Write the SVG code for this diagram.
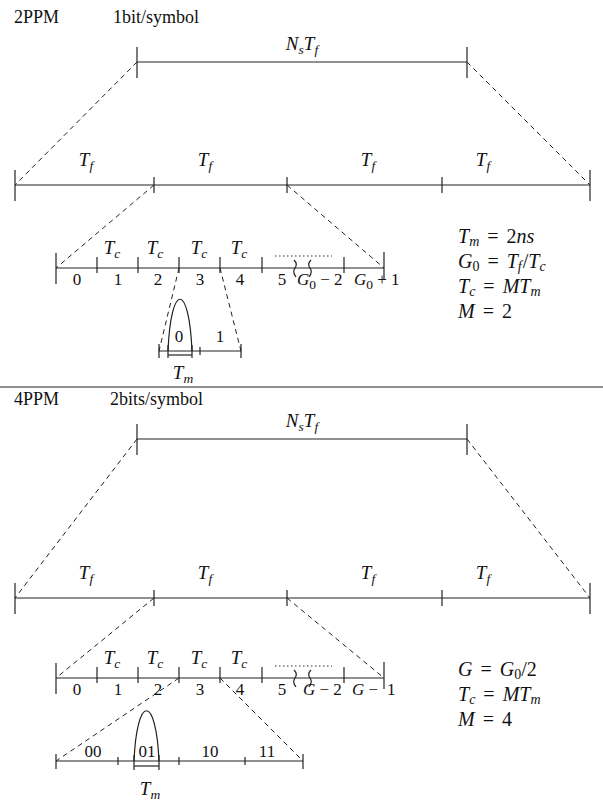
<svg xmlns="http://www.w3.org/2000/svg" width="603" height="802" viewBox="0 0 603 802">
<style>
.ln{stroke:#222;stroke-width:1.2;fill:none}
.dash{stroke:#222;stroke-width:1;stroke-dasharray:5,4;fill:none}
.dot{stroke:#333;stroke-width:1;stroke-dasharray:1.5,2.5;fill:none}
.t{font-family:"Liberation Serif","Times New Roman",serif;font-size:17px;fill:#111}
.h{font-size:18px}
.m{font-size:19px}
.eq{font-size:20px}
.i{font-style:italic}
.s{font-size:13.5px}
.es{font-size:14px}
</style>
<rect width="603" height="802" fill="#fff"/>

<g id="ppm2">
 <text class="t h" x="14" y="23">2PPM</text>
 <text class="t h" x="113" y="23">1bit/symbol</text>

 <g id="symbol-line-top">
  <line class="ln" x1="137" y1="62" x2="467" y2="62"/>
  <line class="ln" x1="137" y1="47" x2="137" y2="78"/>
  <line class="ln" x1="467" y1="47" x2="467" y2="78"/>
  <text class="t m i" x="302" y="50" text-anchor="middle">N<tspan class="s" dy="4">s</tspan><tspan dy="-4">T</tspan><tspan class="s" dy="4">f</tspan></text>
 </g>

 <g id="frame-line-top">
  <line class="ln" x1="15" y1="185" x2="590" y2="185"/>
  <line class="ln" x1="15" y1="170" x2="15" y2="201"/>
  <line class="ln" x1="590" y1="170" x2="590" y2="201"/>
  <line class="ln" x1="154" y1="177" x2="154" y2="193"/>
  <line class="ln" x1="287" y1="177" x2="287" y2="193"/>
  <line class="ln" x1="442" y1="177" x2="442" y2="193"/>
  <text class="t m i" x="86" y="166" text-anchor="middle">T<tspan class="s" dy="4">f</tspan></text>
  <text class="t m i" x="205" y="166" text-anchor="middle">T<tspan class="s" dy="4">f</tspan></text>
  <text class="t m i" x="368" y="166" text-anchor="middle">T<tspan class="s" dy="4">f</tspan></text>
  <text class="t m i" x="483" y="166" text-anchor="middle">T<tspan class="s" dy="4">f</tspan></text>
 </g>

 <g id="chip-line-top">
  <line class="ln" x1="56" y1="268" x2="384" y2="268"/>
  <line class="ln" x1="56" y1="253" x2="56" y2="284"/>
  <line class="ln" x1="384" y1="252" x2="384" y2="279"/>
  <line class="ln" x1="97" y1="257" x2="97" y2="273"/>
  <line class="ln" x1="138" y1="257" x2="138" y2="273"/>
  <line class="ln" x1="179" y1="257" x2="179" y2="273"/>
  <line class="ln" x1="220" y1="257" x2="220" y2="273"/>
  <line class="ln" x1="262" y1="257" x2="262" y2="273"/>
  <line class="ln" x1="344" y1="257" x2="344" y2="273"/>
  <path class="ln" d="M294,260 q4,4 1,8 q-3,4 1,9"/>
  <path class="ln" d="M311,260 q-4,4 -1,8 q3,4 -1,9"/>
  <line class="dot" x1="275" y1="256" x2="332" y2="256"/>
  <text class="t m i" x="112" y="254" text-anchor="middle">T<tspan class="s" dy="4">c</tspan></text>
  <text class="t m i" x="155" y="254" text-anchor="middle">T<tspan class="s" dy="4">c</tspan></text>
  <text class="t m i" x="199" y="254" text-anchor="middle">T<tspan class="s" dy="4">c</tspan></text>
  <text class="t m i" x="239" y="254" text-anchor="middle">T<tspan class="s" dy="4">c</tspan></text>
  <text class="t" x="77" y="285" text-anchor="middle">0</text>
  <text class="t" x="118" y="285" text-anchor="middle">1</text>
  <text class="t" x="158" y="285" text-anchor="middle">2</text>
  <text class="t" x="200" y="285" text-anchor="middle">3</text>
  <text class="t" x="240" y="285" text-anchor="middle">4</text>
  <text class="t" x="282" y="285" text-anchor="middle">5</text>
  <text class="t" x="297" y="285"><tspan class="i">G</tspan><tspan class="s" dy="4">0</tspan><tspan dy="-4"> − 2</tspan></text>
  <text class="t" x="354" y="285"><tspan class="i">G</tspan><tspan class="s" dy="4">0</tspan><tspan dy="-4"> + 1</tspan></text>
 </g>

 <g id="pulse-top">
  <line class="ln" x1="159" y1="351" x2="241" y2="351"/>
  <line class="ln" x1="159" y1="344" x2="159" y2="358"/>
  <line class="ln" x1="241" y1="344" x2="241" y2="358"/>
  <line class="ln" x1="200" y1="347" x2="200" y2="355"/>
  <path class="ln" d="M168,351 C171,282 189,282 192,351"/>
  <line class="ln" x1="168" y1="345" x2="168" y2="358"/>
  <line class="ln" x1="192" y1="345" x2="192" y2="358"/>
  <line class="ln" x1="168" y1="355" x2="192" y2="355"/>
  <text class="t" x="179" y="342" text-anchor="middle">0</text>
  <text class="t" x="220" y="342" text-anchor="middle">1</text>
  <text class="t m i" x="183" y="379" text-anchor="middle">T<tspan class="s" dy="4">m</tspan></text>
 </g>

 <g id="eq-top">
  <text class="t eq" x="458" y="243"><tspan class="i">T</tspan><tspan class="es i" dy="3">m</tspan><tspan dy="-3" dx="3"> = </tspan><tspan dx="3">2</tspan><tspan class="i">ns</tspan></text>
  <text class="t eq" x="458" y="268"><tspan class="i">G</tspan><tspan class="es" dy="3">0</tspan><tspan dy="-3" dx="3"> = </tspan><tspan class="i" dx="3">T</tspan><tspan class="es i" dy="3">f</tspan><tspan dy="-3" dx="1">/</tspan><tspan class="i">T</tspan><tspan class="es i" dy="3">c</tspan></text>
  <text class="t eq" x="458" y="293"><tspan class="i">T</tspan><tspan class="es i" dy="3">c</tspan><tspan dy="-3" dx="3"> = </tspan><tspan class="i" dx="3">MT</tspan><tspan class="es i" dy="3">m</tspan></text>
  <text class="t eq" x="458" y="318"><tspan class="i">M</tspan><tspan dx="3"> = </tspan><tspan dx="3">2</tspan></text>
 </g>
</g>

<line id="separator" class="ln" x1="0" y1="387" x2="603" y2="387"/>

<g id="ppm4">
 <text class="t h" x="14" y="405">4PPM</text>
 <text class="t h" x="110" y="405">2bits/symbol</text>

 <g id="symbol-line-bottom">
  <line class="ln" x1="137" y1="439" x2="467" y2="439"/>
  <line class="ln" x1="137" y1="424" x2="137" y2="455"/>
  <line class="ln" x1="467" y1="424" x2="467" y2="455"/>
  <text class="t m i" x="302" y="427" text-anchor="middle">N<tspan class="s" dy="4">s</tspan><tspan dy="-4">T</tspan><tspan class="s" dy="4">f</tspan></text>
 </g>

 <g id="frame-line-bottom">
  <line class="ln" x1="15" y1="598" x2="590" y2="598"/>
  <line class="ln" x1="15" y1="583" x2="15" y2="614"/>
  <line class="ln" x1="590" y1="583" x2="590" y2="614"/>
  <line class="ln" x1="154" y1="590" x2="154" y2="606"/>
  <line class="ln" x1="287" y1="590" x2="287" y2="606"/>
  <line class="ln" x1="442" y1="590" x2="442" y2="606"/>
  <text class="t m i" x="86" y="579" text-anchor="middle">T<tspan class="s" dy="4">f</tspan></text>
  <text class="t m i" x="205" y="579" text-anchor="middle">T<tspan class="s" dy="4">f</tspan></text>
  <text class="t m i" x="368" y="579" text-anchor="middle">T<tspan class="s" dy="4">f</tspan></text>
  <text class="t m i" x="483" y="579" text-anchor="middle">T<tspan class="s" dy="4">f</tspan></text>
 </g>

 <g id="chip-line-bottom">
  <line class="ln" x1="56" y1="678" x2="384" y2="678"/>
  <line class="ln" x1="56" y1="663" x2="56" y2="694"/>
  <line class="ln" x1="384" y1="662" x2="384" y2="689"/>
  <line class="ln" x1="97" y1="667" x2="97" y2="683"/>
  <line class="ln" x1="138" y1="667" x2="138" y2="683"/>
  <line class="ln" x1="179" y1="667" x2="179" y2="683"/>
  <line class="ln" x1="220" y1="667" x2="220" y2="683"/>
  <line class="ln" x1="262" y1="667" x2="262" y2="683"/>
  <line class="ln" x1="344" y1="667" x2="344" y2="683"/>
  <path class="ln" d="M294,670 q4,4 1,8 q-3,4 1,9"/>
  <path class="ln" d="M311,670 q-4,4 -1,8 q3,4 -1,9"/>
  <line class="dot" x1="275" y1="666" x2="332" y2="666"/>
  <text class="t m i" x="112" y="664" text-anchor="middle">T<tspan class="s" dy="4">c</tspan></text>
  <text class="t m i" x="155" y="664" text-anchor="middle">T<tspan class="s" dy="4">c</tspan></text>
  <text class="t m i" x="199" y="664" text-anchor="middle">T<tspan class="s" dy="4">c</tspan></text>
  <text class="t m i" x="239" y="664" text-anchor="middle">T<tspan class="s" dy="4">c</tspan></text>
  <text class="t" x="77" y="695" text-anchor="middle">0</text>
  <text class="t" x="118" y="695" text-anchor="middle">1</text>
  <text class="t" x="158" y="695" text-anchor="middle">2</text>
  <text class="t" x="200" y="695" text-anchor="middle">3</text>
  <text class="t" x="240" y="695" text-anchor="middle">4</text>
  <text class="t" x="282" y="695" text-anchor="middle">5</text>
  <text class="t" x="303" y="695"><tspan class="i">G</tspan> − 2</text>
  <text class="t" x="352" y="695"><tspan class="i">G</tspan> −<tspan x="387">1</tspan></text>
 </g>

 <g id="pulse-bottom">
  <line class="ln" x1="56" y1="761" x2="303" y2="761"/>
  <line class="ln" x1="56" y1="754" x2="56" y2="769"/>
  <line class="ln" x1="303" y1="754" x2="303" y2="769"/>
  <line class="ln" x1="118" y1="757" x2="118" y2="765"/>
  <line class="ln" x1="179" y1="757" x2="179" y2="765"/>
  <line class="ln" x1="245" y1="757" x2="245" y2="765"/>
  <path class="ln" d="M134,761 C137,694 156,694 159,761"/>
  <line class="ln" x1="134" y1="755" x2="134" y2="770"/>
  <line class="ln" x1="159" y1="755" x2="159" y2="770"/>
  <line class="ln" x1="134" y1="766" x2="159" y2="766"/>
  <text class="t" x="93" y="757" text-anchor="middle">00</text>
  <text class="t" x="147" y="757" text-anchor="middle">01</text>
  <text class="t" x="210" y="757" text-anchor="middle">10</text>
  <text class="t" x="267" y="757" text-anchor="middle">11</text>
  <text class="t m i" x="150" y="795" text-anchor="middle">T<tspan class="s" dy="4">m</tspan></text>
 </g>

 <g id="eq-bottom">
  <text class="t eq" x="458" y="676"><tspan class="i">G</tspan><tspan dx="3"> = </tspan><tspan class="i" dx="3">G</tspan><tspan class="es" dy="3">0</tspan><tspan dy="-3">/2</tspan></text>
  <text class="t eq" x="458" y="701"><tspan class="i">T</tspan><tspan class="es i" dy="3">c</tspan><tspan dy="-3" dx="3"> = </tspan><tspan class="i" dx="3">MT</tspan><tspan class="es i" dy="3">m</tspan></text>
  <text class="t eq" x="458" y="726"><tspan class="i">M</tspan><tspan dx="3"> = </tspan><tspan dx="3">4</tspan></text>
 </g>
</g>

<g id="connectors">
 <line class="dash" x1="137" y1="62" x2="15" y2="185"/>
 <line class="dash" x1="467" y1="62" x2="590" y2="185"/>
 <line class="dash" x1="154" y1="185" x2="56" y2="268"/>
 <line class="dash" x1="287" y1="185" x2="384" y2="268"/>
 <line class="dash" x1="179" y1="268" x2="159" y2="351"/>
 <line class="dash" x1="220" y1="268" x2="241" y2="351"/>
 <line class="dash" x1="137" y1="439" x2="15" y2="598"/>
 <line class="dash" x1="467" y1="439" x2="590" y2="598"/>
 <line class="dash" x1="154" y1="598" x2="56" y2="678"/>
 <line class="dash" x1="287" y1="598" x2="384" y2="678"/>
 <line class="dash" x1="179" y1="678" x2="56" y2="761"/>
 <line class="dash" x1="220" y1="678" x2="303" y2="761"/>
</g>
</svg>
